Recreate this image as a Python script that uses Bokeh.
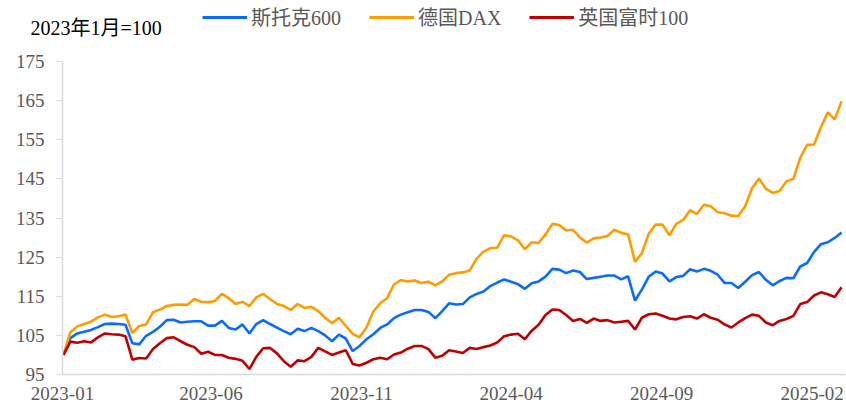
import pandas as pd
from bokeh.plotting import figure
from bokeh.models import Range1d, FixedTicker, DatetimeTickFormatter, Legend, LegendItem, Label
from bokeh.embed import file_html
from bokeh.resources import INLINE

# ---- data (weekly, 2023-01-02 = 100) ----
start_date = "2023-01-02"
n_weeks = 114
dates = pd.date_range(start_date, periods=n_weeks, freq="7D")

series_names = ["斯托克600", "德国DAX", "英国富时100"]

stoxx600 = [
    100.0, 104.3, 105.5, 105.9, 106.4, 107.1, 107.9, 108.0, 107.9, 107.7,
    103.0, 102.7, 104.9, 105.9, 107.2, 108.9, 109.0, 108.3, 108.5, 108.6,
    108.6, 107.5, 107.5, 108.7, 106.9, 106.5, 107.8, 105.5, 107.9, 108.9,
    107.9, 107.0, 106.1, 105.3, 106.7, 106.1, 106.9, 106.1, 105.0, 103.5,
    105.2, 104.2, 101.0, 102.3, 104.0, 105.3, 106.9, 107.8, 109.4, 110.3,
    110.9, 111.5, 111.5, 111.0, 109.4, 111.2, 113.2, 112.9, 113.0, 114.7,
    115.6, 116.2, 117.6, 118.5, 119.3, 118.7, 118.1, 116.9, 118.3, 118.8,
    120.0, 122.0, 121.8, 120.9, 121.6, 121.2, 119.4, 119.7, 120.0, 120.3,
    120.3, 119.3, 120.1, 113.9, 116.7, 120.0, 121.3, 120.8, 118.8, 119.9,
    120.2, 121.9, 121.3, 122.0, 121.5, 120.5, 118.4, 118.4, 117.1, 118.7,
    120.4, 121.2, 119.2, 117.8, 118.9, 119.7, 119.6, 122.6, 123.5, 126.3,
    128.3, 128.8, 129.9, 131.3,
]

dax = [
    100.0, 105.8, 107.3, 107.9, 108.5, 109.6, 110.3, 109.7, 109.9, 110.3,
    105.6, 107.4, 107.8, 110.9, 111.6, 112.5, 112.8, 112.9, 112.8, 114.3,
    113.6, 113.5, 113.8, 115.6, 114.5, 113.0, 113.6, 112.5, 114.7, 115.6,
    114.3, 113.0, 112.5, 111.5, 113.0, 112.0, 112.3, 111.2, 109.5, 108.1,
    109.5, 107.4, 105.4, 104.5, 107.0, 111.1, 113.2, 114.5, 118.0, 119.1,
    118.8, 119.0, 118.4, 118.7, 117.8, 118.8, 120.5, 120.9, 121.1, 121.6,
    124.6, 126.4, 127.3, 127.4, 130.6, 130.3, 129.3, 127.0, 128.8, 128.6,
    130.8, 133.5, 133.2, 131.8, 132.0, 130.0, 128.7, 129.8, 130.0, 130.4,
    132.0, 131.2, 130.8, 123.8, 126.0, 131.0, 133.3, 133.3, 130.6, 133.5,
    134.5, 137.0, 136.0, 138.4, 138.0, 136.5, 136.2, 135.6, 135.5, 138.0,
    142.6, 145.1, 142.5, 141.4, 141.9, 144.4, 145.0, 150.4, 153.7, 153.8,
    158.2, 162.0, 160.2, 164.8,
]

ftse100 = [
    100.0, 103.4, 103.1, 103.5, 103.2, 104.5, 105.5, 105.3, 105.2, 104.8,
    98.8, 99.2, 99.1, 101.5, 103.0, 104.3, 104.5, 103.5, 102.6, 102.0,
    100.3, 100.8, 100.0, 100.0, 99.3, 99.0, 98.5, 96.4, 99.5, 101.7,
    101.8, 100.4, 98.4, 97.0, 98.6, 98.4, 99.5, 101.8, 100.9, 100.0,
    100.6, 101.2, 97.7, 97.3, 98.0, 98.9, 99.3, 98.9, 100.1, 100.6,
    101.6, 102.3, 102.3, 101.5, 99.3, 99.8, 101.2, 100.9, 100.5, 101.8,
    101.5, 102.0, 102.4, 103.2, 104.8, 105.2, 105.4, 104.0, 106.2, 107.7,
    110.2, 111.6, 111.5, 110.2, 108.7, 109.2, 108.2, 109.3, 108.7, 108.9,
    108.3, 108.5, 108.7, 106.5, 109.5, 110.4, 110.6, 110.0, 109.3, 109.1,
    109.7, 109.9, 109.3, 110.4, 109.5, 109.0, 107.8, 107.0, 108.3, 109.4,
    110.3, 110.0, 108.3, 107.6, 108.7, 109.2, 110.0, 113.0, 113.5, 115.2,
    116.0, 115.5, 114.8, 117.3,
]

x_tick_labels = ["2023-01", "2023-06", "2023-11", "2024-04", "2024-09", "2025-02"]
y_ticks = [95, 105, 115, 125, 135, 145, 155, 165, 175]
title_text = "2023年1月=100"

colors = ["#0A6CFF", "#FF9C00", "#C00000"]
all_series = [stoxx600, dax, ftse100]

FONT = "Liberation Serif, Noto Sans CJK SC"
GRAY = "#595959"
W = 846
HEAD_H = 45
MAIN_H = 408 - HEAD_H

# ---- header strip: unit note + legend (pixel-unit frame over the whole strip) ----
head = figure(
    width=W, height=HEAD_H, x_range=Range1d(0, W), y_range=Range1d(0, HEAD_H),
    x_axis_location=None, y_axis_location=None,
    output_backend="svg", toolbar_location=None,
    min_border_left=0, min_border_right=0, min_border_top=0, min_border_bottom=0,
)
head.outline_line_color = None
head.xgrid.visible = False
head.ygrid.visible = False

# key renderers carry the series styles only; their data lie far outside this strip's range
key_renderers = [head.line(dates, vals, line_color=c, line_width=3)
                 for vals, c in zip(all_series, colors)]
legend = Legend(
    items=[LegendItem(label=nm, renderers=[r]) for nm, r in zip(series_names, key_renderers)],
    orientation="horizontal", location=(202, 14),
    glyph_width=45, glyph_height=20, label_standoff=4, spacing=28,
    padding=0, margin=0, border_line_alpha=0, background_fill_alpha=0,
    label_text_font=FONT, label_text_font_size="20px", label_text_color=GRAY,
)
head.add_layout(legend, "center")

head.add_layout(Label(x=30, y=18, text=title_text, text_font=FONT, text_font_size="20px",
                      text_color="#000000", text_baseline="middle", text_align="left"))

# ---- main chart ----
p = figure(
    width=W, height=MAIN_H,
    x_axis_type="datetime",
    x_range=Range1d(pd.Timestamp("2023-01-01"), pd.Timestamp("2025-03-07")),
    y_range=Range1d(95, 175),
    output_backend="svg", toolbar_location=None,
    min_border_left=62, min_border_right=1, min_border_top=16, min_border_bottom=34,
)
p.outline_line_color = None
p.xgrid.visible = False
p.ygrid.visible = False

for vals, c in zip(all_series, colors):
    p.line(dates, vals, line_color=c, line_width=2.6)

tick_dates = [pd.Timestamp(t + "-01") for t in x_tick_labels]
p.xaxis.ticker = FixedTicker(ticks=[d.value / 1e6 for d in tick_dates])
fmt = "%Y-%m"
p.xaxis.formatter = DatetimeTickFormatter(
    milliseconds=fmt, seconds=fmt, minsec=fmt, minutes=fmt, hourmin=fmt,
    hours=fmt, days=fmt, months=fmt, years=fmt)
p.yaxis.ticker = FixedTicker(ticks=y_ticks)

for ax in (p.xaxis[0], p.yaxis[0]):
    ax.axis_line_color = "#D9D9D9"
    ax.axis_line_width = 1.5
    ax.major_label_text_font = FONT
    ax.major_label_text_font_size = "19px"
    ax.major_label_text_color = GRAY
    ax.minor_tick_line_color = None

p.xaxis.major_tick_line_color = None
p.xaxis.major_tick_out = 0
p.xaxis.major_label_standoff = 12
p.yaxis.major_tick_line_color = "#D9D9D9"
p.yaxis.major_tick_out = 6
p.yaxis.major_tick_in = 0
p.yaxis.major_label_standoff = 12

open("out.html", "w").write(file_html([head, p], INLINE))
